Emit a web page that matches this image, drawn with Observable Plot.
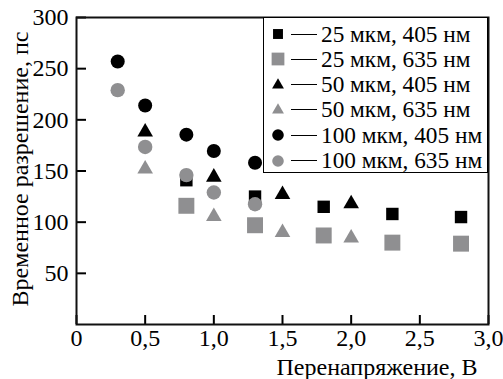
<!DOCTYPE html>
<html><head><meta charset="utf-8">
<script src="https://cdn.jsdelivr.net/npm/d3@7"></script>
<script src="https://cdn.jsdelivr.net/npm/@observablehq/plot@0.6"></script>
<style>
body{margin:0;background:#fff;}
#chart{position:relative;width:503px;height:379px;font-family:"Liberation Serif","Times New Roman",serif;color:#000;}
#chart svg text{font-family:"Liberation Serif","Times New Roman",serif;}
#legend{position:absolute;left:263px;top:17px;width:225px;height:156px;border:1px solid #000;background:#fff;box-sizing:border-box;}
.row{position:absolute;left:0;height:25px;display:flex;align-items:center;font-size:23.3px;white-space:nowrap;font-family:"Liberation Serif","Times New Roman",serif;}
.row svg{display:block;}
.row .dash{width:26px;height:1px;background:#000;margin-left:4px;margin-right:4px;}
</style></head><body><div id="chart"></div>
<script>
const seriesLabels = ["25 мкм, 405 нм","25 мкм, 635 нм","50 мкм, 405 нм","50 мкм, 635 нм","100 мкм, 405 нм","100 мкм, 635 нм"];
const seriesSymbols = ["square","square","triangle","triangle","circle","circle"];
const seriesColors = ["#000000","#8f8f91","#000000","#8f8f91","#000000","#8f8f91"];
const x25 = [0.8, 1.3, 1.8, 2.3, 2.8];
const y25_405 = [141, 125, 115, 108, 105];
const y25_635 = [116, 97, 87, 80, 79];
const x50 = [0.5, 1.0, 1.5, 2.0];
const y50_405 = [188, 144, 127, 118];
const y50_635 = [152, 105.5, 90, 84.5];
const x100 = [0.3, 0.5, 0.8, 1.0, 1.3];
const y100_405 = [257, 214, 185.5, 169.5, 158];
const y100_635 = [229, 173.5, 146, 129, 117.5];
const xTicks = [0, 0.5, 1.0, 1.5, 2.0, 2.5, 3.0];
const yTicks = [50, 100, 150, 200, 250, 300];
const xLabel = "Перенапряжение, В";
const yLabel = "Временное разрешение, пс";

const seriesX = [x25, x25, x50, x50, x100, x100];
const seriesY = [y25_405, y25_635, y50_405, y50_635, y100_405, y100_635];
const seriesR = [7.0, 9.0, 5.8, 5.8, 7.0, 7.2];
const data = [];
seriesX.forEach((xs, i) => xs.forEach((x, j) => data.push({x, y: seriesY[i][j], s: i})));

const fmt = d => d === 0 ? "0" : d.toFixed(1).replace(".", ",");
const FF = "Liberation Serif, Times New Roman, serif";

const plot = Plot.plot({
  width: 503, height: 379,
  marginLeft: 76, marginRight: 15, marginTop: 17, marginBottom: 55,
  style: {fontFamily: FF, fontSize: "24px", color: "#000", background: "#fff"},
  x: {domain: [0, 3]},
  y: {domain: [0, 300]},
  marks: [
    Plot.axisX({ticks: xTicks, tickFormat: fmt, tickSize: -9, tickPadding: 13, fontSize: 24, fontFamily: FF, fontVariant: "normal", label: null, strokeWidth: 2}),
    Plot.axisY({ticks: yTicks, tickSize: -10, tickPadding: 18, fontSize: 24, fontFamily: FF, fontVariant: "normal", label: null, strokeWidth: 2}),
    ...[0,1,2,3,4,5].map(i => Plot.dot(data.filter(d => d.s === i), {x: "x", y: "y", symbol: () => seriesSymbols[i], fill: seriesColors[i], r: seriesR[i], stroke: "none"})),
    Plot.frame({stroke: "#111", strokeWidth: 2}),
    Plot.text([xLabel], {frameAnchor: "bottom-right", textAnchor: "end", dx: -11, dy: 50, fontSize: 24, fontFamily: FF}),
    Plot.text([yLabel], {frameAnchor: "left", textAnchor: "middle", rotate: -90, dx: -56, dy: -2, fontSize: 24, fontFamily: FF})
  ]
});
const chart = document.getElementById("chart");
chart.appendChild(plot);

const legend = document.createElement("div");
legend.id = "legend";
chart.appendChild(legend);
const legR = [5.6, 7.2, 4.4, 4.4, 5.8, 5.8];
seriesLabels.forEach((lab, i) => {
  const row = document.createElement("div");
  row.className = "row";
  row.style.top = (3.5 + i * 25.3) + "px";
  row.style.left = "5px";
  const svg = d3.create("svg").attr("width", 18).attr("height", 18);
  const symType = {square: d3.symbolSquare, triangle: d3.symbolTriangle, circle: d3.symbolCircle}[seriesSymbols[i]];
  svg.append("path").attr("transform", "translate(9,9)")
    .attr("d", d3.symbol(symType, Math.PI * legR[i] * legR[i])())
    .attr("fill", seriesColors[i]);
  row.appendChild(svg.node());
  const dash = document.createElement("div"); dash.className = "dash"; row.appendChild(dash);
  const t = document.createElement("span"); t.textContent = lab; row.appendChild(t);
  legend.appendChild(row);
});
</script></body></html>
